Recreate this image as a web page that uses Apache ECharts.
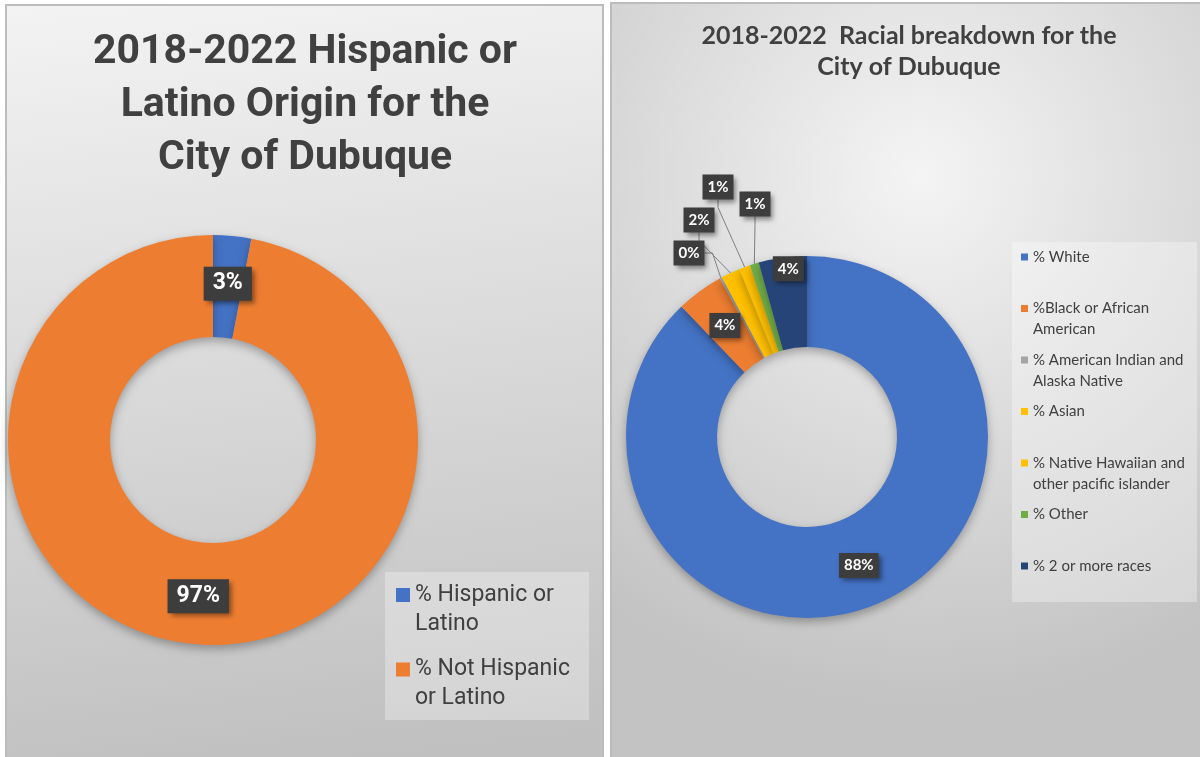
<!DOCTYPE html>
<html>
<head>
<meta charset="utf-8">
<title>City of Dubuque 2018-2022</title>
<script src="https://cdn.jsdelivr.net/npm/echarts@6.0.0/dist/echarts.min.js"></script>
<style>
  html, body { margin: 0; padding: 0; background: #ffffff; }
  #chart { width: 1200px; height: 757px; }
</style>
</head>
<body>
<div id="chart"></div>
<script>
// Hispanic or Latino origin (share of population, %)
const originCategories = ['% Hispanic or Latino', '% Not Hispanic or Latino'];
const originValues = [3, 97];
const originColors = ['#4472C4', '#ED7D31'];

// Racial breakdown (share of population, %)
const raceCategories = [
  '% White',
  '%Black or African American',
  '% American Indian and Alaska Native',
  '% Asian',
  '% Native Hawaiian and other pacific islander',
  '% Other',
  '% 2 or more races'
];
const raceValues = [87.8, 4.2, 0.2, 1.7, 1.0, 0.8, 4.3];
const raceColors = ['#4472C4', '#ED7D31', '#A5A5A5', '#FFC000', '#FFC000', '#70AD47', '#264478'];

// Legend entries broken over lines; a blank line above keeps the first line level with the swatch
const legendText = {
  '% Hispanic or Latino': ' \n% Hispanic or\nLatino',
  '% Not Hispanic or Latino': ' \n% Not Hispanic\nor Latino',
  '% White': ' \n% White\n ',
  '%Black or African American': ' \n%Black or African\nAmerican',
  '% American Indian and Alaska Native': ' \n% American Indian and\nAlaska Native',
  '% Asian': ' \n% Asian\n ',
  '% Native Hawaiian and other pacific islander': ' \n% Native Hawaiian and\nother pacific islander',
  '% Other': ' \n% Other\n ',
  '% 2 or more races': ' \n% 2 or more races\n '
};

// Callout placement for the thin slices (label centre, px) and nudges for inside labels
const calloutAt = { 2: [689, 253], 3: [699, 220], 4: [718, 187], 5: [755, 204] };
const insideNudge = { 6: -31 };

const pct = p => Math.round(p.percent) + '%';

const darkBox = {
  color: '#ffffff',
  fontWeight: 'bold',
  backgroundColor: '#3d3d3d',
  shadowColor: 'rgba(0,0,0,0.45)',
  shadowBlur: 5,
  shadowOffsetX: 3,
  shadowOffsetY: 3
};

const chart = echarts.init(document.getElementById('chart'), null, { renderer: 'canvas' });

chart.setOption({
  animation: false,
  graphic: {
    elements: [
      {
        type: 'rect', z: -10,
        shape: { x: 6, y: 5, width: 597, height: 780 },
        style: {
          fill: new echarts.graphic.LinearGradient(0, 0, 0.15, 1, [
            { offset: 0, color: '#f3f3f3' },
            { offset: 1, color: '#c0c0c0' }
          ]),
          stroke: '#bcbcbc', lineWidth: 2
        }
      },
      {
        type: 'rect', z: -10,
        shape: { x: 611, y: 3, width: 620, height: 780 },
        style: {
          fill: new echarts.graphic.RadialGradient(0.5, 0.22, 0.85, [
            { offset: 0, color: '#f4f4f4' },
            { offset: 1, color: '#c3c3c3' }
          ]),
          stroke: '#bcbcbc', lineWidth: 2
        }
      },
      { type: 'rect', z: -9, shape: { x: 385, y: 572, width: 204, height: 148 }, style: { fill: 'rgba(255,255,255,0.3)' } },
      { type: 'rect', z: -9, shape: { x: 1012, y: 242, width: 185, height: 360 }, style: { fill: 'rgba(255,255,255,0.32)' } }
    ]
  },
  title: [
    {
      text: '2018-2022 Hispanic or\nLatino Origin for the\nCity of Dubuque',
      left: 305, top: 26, textAlign: 'center', padding: 0,
      textStyle: { fontFamily: 'Roboto', fontWeight: 'bold', fontSize: 41, lineHeight: 53, color: '#404040' }
    },
    {
      text: '2018-2022  Racial breakdown for the\nCity of Dubuque',
      left: 909, top: 20, textAlign: 'center', padding: 0,
      textStyle: { fontFamily: 'Lato', fontWeight: 'bold', fontSize: 25, lineHeight: 31, color: '#404040' }
    }
  ],
  legend: [
    {
      data: originCategories,
      orient: 'vertical', left: 396, top: 551.5, padding: 0,
      icon: 'rect', itemWidth: 14, itemHeight: 14, itemGap: -12.5,
      selectedMode: false,
      itemStyle: { shadowBlur: 0, shadowColor: 'transparent', shadowOffsetY: 0 },
      formatter: n => legendText[n],
      textStyle: {
        fontFamily: 'Roboto', fontSize: 23, lineHeight: 29, color: '#404040',
        backgroundColor: 'rgba(0,0,0,0)'
      }
    },
    {
      data: raceCategories,
      orient: 'vertical', left: 1021, top: 225.5, padding: 0,
      icon: 'rect', itemWidth: 7, itemHeight: 7, itemGap: -11.5,
      selectedMode: false,
      itemStyle: { shadowBlur: 0, shadowColor: 'transparent', shadowOffsetY: 0 },
      formatter: n => legendText[n],
      textStyle: {
        fontFamily: 'Lato', fontSize: 15, lineHeight: 21, color: '#404040',
        backgroundColor: 'rgba(0,0,0,0)'
      }
    }
  ],
  series: [
    {
      type: 'pie',
      center: [213, 440],
      radius: [103, 205],
      startAngle: 90,
      clockwise: true,
      avoidLabelOverlap: false,
      emphasis: { disabled: true },
      itemStyle: { shadowBlur: 10, shadowColor: 'rgba(0,0,0,0.3)', shadowOffsetY: 4 },
      label: Object.assign({
        show: true, position: 'inside', formatter: pct,
        fontFamily: 'Roboto', fontSize: 23, lineHeight: 24, padding: [5, 9]
      }, darkBox),
      labelLine: { show: false },
      data: originCategories.map((name, i) => ({
        name, value: originValues[i], itemStyle: { color: originColors[i] }
      }))
    },
    {
      type: 'pie',
      center: [807, 437],
      radius: [90, 181],
      startAngle: 90,
      clockwise: true,
      avoidLabelOverlap: false,
      emphasis: { disabled: true },
      itemStyle: { shadowBlur: 10, shadowColor: 'rgba(0,0,0,0.3)', shadowOffsetY: 4 },
      label: Object.assign({
        show: true, position: 'inside', formatter: pct,
        fontFamily: 'Lato', fontSize: 15, lineHeight: 15, padding: [5, 5]
      }, darkBox),
      labelLine: { show: false, length: 8, length2: 8, lineStyle: { color: '#7f7f7f', width: 1 } },
      labelLayout: p => {
        const at = calloutAt[p.dataIndex];
        if (at) return { x: at[0], y: at[1], align: 'center', verticalAlign: 'middle' };
        if (insideNudge[p.dataIndex] != null) return { dy: insideNudge[p.dataIndex] };
        return {};
      },
      data: raceCategories.map((name, i) => {
        const d = { name, value: raceValues[i], itemStyle: { color: raceColors[i] } };
        if (calloutAt[i]) {
          d.label = { position: 'outside' };
          d.labelLine = { show: true };
        }
        return d;
      })
    }
  ]
});
</script>
</body>
</html>
